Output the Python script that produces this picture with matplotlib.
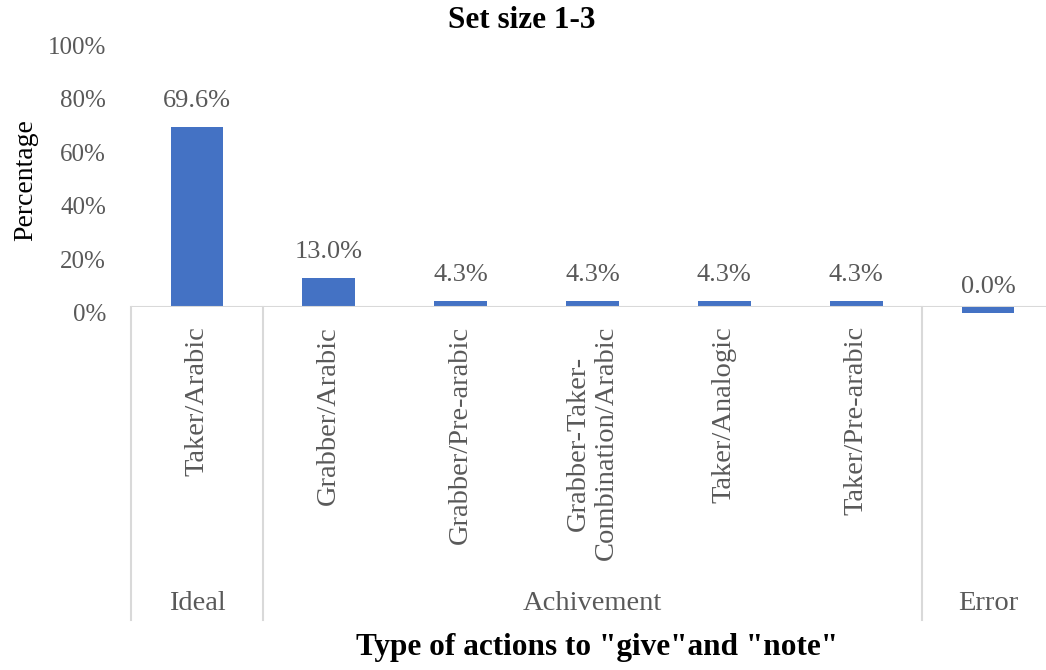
import matplotlib.pyplot as plt
import matplotlib.transforms as mtransforms
import numpy as np

plt.rcParams['font.family'] = ['Liberation Serif', 'DejaVu Serif']

# Data
categories = ['Taker/Arabic', 'Grabber/Arabic', 'Grabber/Pre-arabic',
              'Grabber-Taker-\nCombination/Arabic', 'Taker/Analogic',
              'Taker/Pre-arabic', 'Error']
values = [69.6, 13.0, 4.3, 4.3, 4.3, 4.3, 0.0]
groups = ['Ideal', 'Achivement', 'Error']
group_sizes = [1, 5, 1]
yticks = [0, 20, 40, 60, 80, 100]
# bars in the source are drawn about 2 points lower than their labels
bar_shift = 2.0

gray = '#595959'
line_gray = '#d9d9d9'
blue = '#4472c4'

W, H = 1046, 670
fig = plt.figure(figsize=(W / 100, H / 100), dpi=100)
ax_left, ax_right = 131, 1054
ax_zero, ax_top = 307.5, 40.5
ax = fig.add_axes([ax_left / W, 1 - ax_zero / H,
                   (ax_right - ax_left) / W, (ax_zero - ax_top) / H])

x = np.arange(len(values))
heights = [v - bar_shift for v in values]
ax.bar(x, heights, width=0.4, color=blue, clip_on=False, zorder=2)

for xi, v in zip(x, values):
    ax.annotate(f'{v:.1f}%', (xi, v), xytext=(0, 15), textcoords='offset points',
                ha='center', va='center', fontsize=19, color=gray)

ax.set_xlim(-0.5, len(values) - 0.5)
ax.set_ylim(0, 100)
ax.set_yticks(yticks)
ax.set_yticklabels([f'{t}%' for t in yticks], fontsize=18, color=gray)
ax.tick_params(axis='y', length=0, pad=18)
ax.set_xticks([])
for s in ax.spines.values():
    s.set_visible(False)
off = mtransforms.ScaledTranslation(0, -5 / 100, fig.dpi_scale_trans)
for lab in ax.get_yticklabels():
    lab.set_transform(lab.get_transform() + off)

ax.axhline(0, color=line_gray, lw=1.5, zorder=3)

# category table below the axis
ax_h = ax_zero - ax_top
def ay(py):
    return (ax_zero - py) / ax_h

trans = mtransforms.blended_transform_factory(ax.transData, ax.transAxes)
for xi, c in zip(x, categories[:-1] + ['']):
    ax.text(xi, ay(326), c, transform=trans, rotation=90, ha='center', va='top',
            multialignment='center', fontsize=20.5, color=gray, linespacing=1.15)

start = -0.5
for g, n in zip(groups, group_sizes):
    ax.plot([start, start], [0, ay(620)], transform=trans, color=line_gray,
            lw=1.5, clip_on=False)
    ax.text(start + n / 2, ay(604), g, transform=trans, ha='center', va='center',
            fontsize=20.5, color=gray)
    start += n
ax.plot([start, start], [0, ay(620)], transform=trans, color=line_gray,
        lw=1.5, clip_on=False)

fig.text(522 / W, 1 - 20 / H, 'Set size 1-3', ha='center', va='center',
         fontsize=22.5, fontweight='bold')
fig.text(597 / W, 1 - 648 / H, 'Type of actions to "give"and "note"',
         ha='center', va='center', fontsize=22.5, fontweight='bold')
fig.text(26 / W, 1 - 180 / H, 'Percentage', rotation=90, ha='center',
         va='center', fontsize=20)

fig.savefig('out.png', dpi=100)
